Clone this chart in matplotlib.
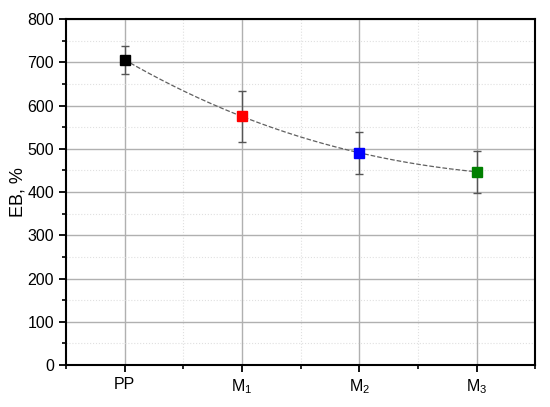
import matplotlib
matplotlib.use("Agg")
import matplotlib.pyplot as plt
import numpy as np
from matplotlib.ticker import MultipleLocator

samples = ["PP", "M$_1$", "M$_2$", "M$_3$"]
eb = [706, 575, 491, 447]
eb_err = [33, 58, 48, 49]
colors = ["black", "red", "blue", "green"]

plt.rcParams['font.family'] = ['Liberation Sans', 'DejaVu Sans']
plt.rcParams['mathtext.fontset'] = 'custom'
plt.rcParams['mathtext.rm'] = 'Liberation Sans'
plt.rcParams['mathtext.it'] = 'Liberation Sans:italic'

fig = plt.figure(figsize=(5.5, 4.07), dpi=100)
ax = fig.add_axes([0.12, 0.103, 0.853, 0.85])

x = np.arange(len(samples))

# smooth dashed guide line through the points
coef = np.polyfit(x, eb, 3)
xs = np.linspace(x[0], x[-1], 200)
ax.plot(xs, np.polyval(coef, xs), '--', color='#606060', lw=0.9, zorder=3)

ax.errorbar(x, eb, yerr=eb_err, fmt='none', ecolor='#555555', elinewidth=1,
            capsize=3, capthick=1, zorder=4)
for xi, yi, c in zip(x, eb, colors):
    ax.plot(xi, yi, 's', color=c, ms=6.5, zorder=5)

ax.set_xlim(-0.5, 3.5)
ax.set_ylim(0, 800)
ax.set_xticks(x)
ax.set_xticklabels(samples)
ax.set_xticks(np.arange(-0.5, 4, 1), minor=True)
ax.yaxis.set_major_locator(MultipleLocator(100))
ax.yaxis.set_minor_locator(MultipleLocator(50))

ax.grid(which='major', color='#b0b0b0', lw=1, zorder=0)
ax.grid(which='minor', color='#e0e0e0', lw=0.8, ls=':', zorder=0)
ax.set_axisbelow(True)

for s in ax.spines.values():
    s.set_linewidth(1.5)
ax.tick_params(which='major', direction='out', length=5, width=1.3, labelsize=11.5)
ax.tick_params(which='minor', direction='out', length=3, width=1.2)
ax.set_ylabel("EB, %", fontsize=13, labelpad=1)

fig.savefig("out.png", dpi=100)
